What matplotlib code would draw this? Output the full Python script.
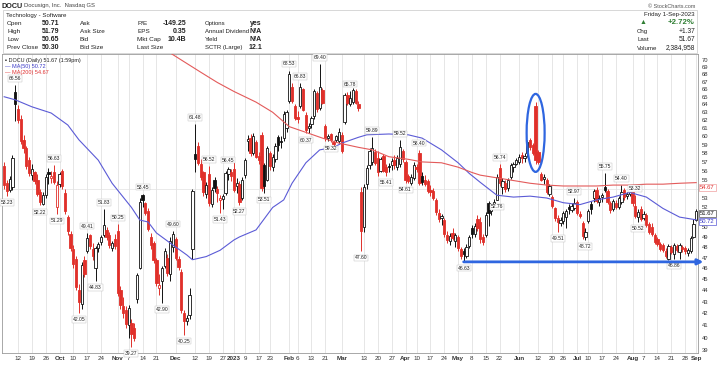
import matplotlib
matplotlib.use("Agg")
import matplotlib.pyplot as plt
from matplotlib.patches import Ellipse, Rectangle
from matplotlib.ticker import FixedLocator, FixedFormatter, NullFormatter
import numpy as np
import pandas as pd

# NYSE holidays inside the window
holidays = ["2022-09-05", "2022-11-24", "2022-12-26", "2023-01-02", "2023-01-16",
            "2023-02-20", "2023-04-07", "2023-05-29", "2023-06-19", "2023-07-04"]

opens = [
    56.5, 54.6, 53.9, 54.2, 65.6, 63.4, 62.2, 59.6, 58.6, 57.2,
    55.5, 55.8, 55.0, 53.6, 52.4, 53.3, 55.8, 55.2, 55.8, 52.0,
    54.5, 56.0, 53.5, 51.0, 49.3, 47.8, 46.9, 44.0, 42.8, 46.8,
    47.6, 49.2, 47.8, 46.0, 47.9, 48.5, 49.2, 49.7, 49.2, 47.9,
    48.8, 49.6, 44.0, 42.6, 42.3, 41.0, 41.2, 40.8, 43.2, 46.0,
    53.3, 52.5, 51.6, 49.0, 48.4, 46.8, 44.2, 44.8, 46.2, 47.0,
    45.5, 48.0, 48.8, 46.9, 45.7, 42.0, 41.4, 41.9, 47.8, 57.9,
    58.8, 56.8, 55.8, 53.4, 55.6, 52.4, 55.0, 54.0, 52.8, 52.9,
    53.5, 55.6, 55.8, 56.2, 54.3, 54.5, 53.0, 55.5, 59.4, 59.8,
    58.0, 59.3, 57.7, 60.2, 56.6, 55.0, 58.0, 56.4, 57.3, 59.9,
    59.5, 59.8, 61.0, 64.5, 66.3, 63.8, 62.4, 63.8, 66.0, 62.7,
    61.0, 61.5, 62.5, 65.5, 63.6, 65.9, 61.3, 59.8, 60.3, 59.3,
    59.6, 59.5, 60.2, 61.8, 65.2, 64.0, 64.3, 65.8, 64.0, 53.7,
    50.0, 54.5, 56.6, 57.0, 58.2, 57.4, 56.0, 57.7, 56.4, 56.5,
    56.6, 57.2, 56.4, 56.8, 58.3, 57.0, 55.4, 54.6, 55.2, 56.4,
    58.0, 55.4, 55.0, 54.8, 53.9, 53.8, 52.8, 51.4, 50.9, 50.7,
    49.2, 48.6, 49.4, 48.6, 49.0, 47.8, 47.6, 47.2, 48.1, 49.9,
    49.3, 50.8, 50.5, 49.0, 49.2, 52.5, 51.6, 52.4, 52.8, 56.3,
    54.2, 54.6, 54.1, 55.3, 56.4, 56.8, 57.0, 57.8, 57.5, 58.0,
    59.6, 59.0, 63.8, 58.2, 55.6, 55.1, 55.0, 53.4, 53.1, 51.9,
    50.9, 50.4, 50.6, 51.0, 52.1, 51.7, 51.9, 52.6, 51.3, 50.4,
    49.0, 50.6, 52.4, 53.0, 53.9, 52.6, 53.1, 54.2, 53.8, 52.5,
    51.8, 52.5, 52.0, 52.6, 53.9, 53.2, 53.4, 53.6, 52.2, 51.0,
    51.8, 50.9, 51.2, 50.3, 50.0, 49.2, 48.8, 48.3, 48.2, 47.6,
    46.9, 48.0, 47.3, 48.1, 47.5, 48.0, 47.9, 47.4, 47.6, 49.0,
    50.71]

highs = [
    57.0, 55.0, 55.4, 57.8, 66.56, 63.9, 62.6, 60.2, 58.9, 57.6,
    56.8, 56.0, 55.6, 54.0, 53.6, 55.6, 56.3, 56.0, 56.63, 54.8,
    55.9, 56.2, 54.0, 51.2, 49.6, 48.2, 47.2, 44.6, 46.6, 47.2,
    49.41, 49.3, 48.4, 48.1, 48.5, 49.2, 51.83, 50.0, 49.5, 48.6,
    49.3, 50.25, 44.4, 43.4, 42.6, 42.7, 41.5, 41.2, 45.6, 53.0,
    53.45, 52.6, 51.9, 49.4, 48.6, 47.0, 45.5, 46.2, 47.9, 47.3,
    49.0, 49.6, 49.0, 47.2, 45.9, 42.3, 41.9, 44.2, 54.0, 61.48,
    59.3, 57.3, 56.0, 54.7, 56.52, 54.2, 55.3, 54.3, 53.3, 53.4,
    56.0, 56.45, 56.2, 57.3, 55.2, 54.8, 55.3, 57.5, 60.2, 60.3,
    60.4, 59.6, 58.2, 60.5, 56.9, 58.9, 58.3, 57.9, 59.2, 60.2,
    60.0, 63.1, 63.3, 68.53, 66.8, 64.0, 63.1, 66.83, 66.2, 63.0,
    61.7, 62.5, 66.0, 65.8, 69.4, 66.1, 61.5, 60.3, 60.4, 59.6,
    60.2, 61.0, 60.5, 65.5, 65.6, 65.78, 66.1, 66.0, 64.5, 54.2,
    54.5, 56.6, 58.6, 59.89, 58.5, 58.3, 57.6, 57.9, 56.8, 56.9,
    57.4, 57.8, 57.8, 59.52, 58.5, 57.2, 55.6, 55.6, 57.0, 56.8,
    58.4, 55.8, 55.5, 55.1, 54.4, 54.1, 53.0, 51.8, 51.3, 50.9,
    49.6, 49.4, 49.9, 49.4, 49.2, 48.0, 47.9, 48.3, 49.2, 50.2,
    50.4, 51.2, 51.0, 49.3, 51.5, 52.7, 52.4, 52.9, 55.6, 56.74,
    55.2, 55.0, 55.2, 56.9, 57.0, 57.4, 57.9, 58.1, 58.0, 59.6,
    59.8, 59.2, 64.3, 58.4, 55.9, 55.6, 55.2, 54.5, 53.3, 52.0,
    51.2, 51.0, 51.6, 51.8, 52.4, 52.5, 52.97, 52.8, 51.6, 50.6,
    49.9, 51.8, 52.7, 54.0, 54.2, 53.3, 53.5, 55.75, 54.0, 52.7,
    52.9, 52.8, 53.2, 54.4, 54.1, 53.6, 53.9, 53.8, 53.32, 51.8,
    52.2, 51.6, 51.4, 50.5, 50.4, 49.4, 49.0, 48.5, 48.4, 47.9,
    48.3, 48.2, 48.4, 48.3, 48.4, 48.2, 48.1, 47.9, 49.1, 50.8,
    51.79]

lows = [
    54.0, 53.23, 53.6, 53.9, 61.9, 61.6, 59.1, 58.0, 56.2, 55.4,
    55.0, 54.5, 53.2, 52.22, 52.3, 53.0, 54.5, 54.6, 54.5, 51.29,
    54.2, 54.0, 51.3, 49.2, 47.6, 46.0, 44.0, 42.05, 42.4, 45.2,
    47.4, 47.8, 46.8, 44.83, 47.5, 48.2, 49.0, 48.7, 47.9, 47.6,
    47.8, 43.5, 42.4, 41.6, 40.8, 40.0, 39.27, 39.7, 42.9, 45.9,
    52.0, 51.2, 49.6, 47.8, 46.5, 44.4, 43.6, 42.9, 46.0, 45.3,
    44.8, 47.5, 46.8, 45.8, 42.0, 40.25, 41.0, 41.5, 46.9, 55.8,
    56.6, 55.0, 53.2, 53.0, 52.2, 52.0, 53.7, 52.6, 51.43, 51.8,
    53.3, 55.0, 54.8, 53.6, 53.5, 52.27, 52.8, 55.2, 58.3, 57.7,
    57.8, 57.4, 56.8, 53.8, 53.51, 54.8, 56.1, 56.0, 57.0, 58.3,
    58.6, 59.5, 60.6, 64.2, 64.2, 62.0, 61.7, 63.5, 63.1, 60.37,
    60.4, 61.0, 62.2, 63.0, 63.3, 64.0, 59.5, 59.4, 59.32, 58.8,
    59.3, 59.2, 58.0, 61.5, 63.9, 63.8, 64.0, 64.0, 63.2, 47.6,
    49.5, 54.0, 56.2, 56.6, 56.6, 55.4, 55.8, 55.8, 55.41, 55.9,
    56.1, 56.2, 56.1, 56.4, 57.0, 54.61, 54.6, 54.4, 55.0, 55.8,
    54.4, 54.4, 54.3, 53.5, 53.2, 52.8, 51.2, 50.5, 50.2, 49.0,
    48.4, 48.2, 48.7, 48.0, 47.6, 46.9, 46.63, 47.0, 47.9, 48.9,
    49.0, 49.6, 48.4, 48.2, 49.0, 50.1, 51.2, 52.0, 52.76, 54.3,
    53.4, 53.6, 53.8, 55.1, 55.9, 56.6, 56.8, 56.9, 57.0, 57.6,
    58.4, 57.8, 56.8, 56.8, 54.8, 54.5, 53.4, 53.2, 51.9, 50.6,
    49.51, 50.1, 50.3, 49.9, 51.3, 51.5, 51.7, 51.2, 50.9, 48.8,
    48.72, 50.4, 51.3, 52.6, 52.5, 52.2, 52.6, 53.7, 52.4, 51.4,
    51.6, 51.8, 51.8, 52.4, 52.8, 52.9, 53.2, 52.2, 50.9, 50.52,
    50.6, 50.7, 50.0, 49.3, 49.1, 48.3, 48.1, 47.6, 47.5, 47.0,
    46.8, 47.3, 46.86, 47.5, 46.9, 47.5, 47.3, 47.2, 47.4, 48.9,
    50.65]

closes = [
    54.4, 53.8, 55.1, 57.5, 64.0, 62.0, 59.4, 58.6, 56.5, 55.7,
    56.2, 54.8, 53.4, 52.6, 53.3, 55.3, 55.6, 55.4, 54.7, 54.4,
    55.6, 54.3, 51.6, 49.6, 47.9, 46.4, 44.3, 43.0, 46.3, 45.5,
    48.9, 48.1, 47.2, 47.9, 48.3, 49.0, 50.2, 49.0, 48.2, 48.4,
    48.1, 43.8, 42.7, 42.0, 41.1, 42.5, 40.3, 40.0, 45.4, 52.6,
    52.8, 51.4, 49.8, 48.2, 46.8, 44.7, 44.5, 46.0, 47.6, 45.6,
    48.6, 49.3, 47.0, 46.1, 42.3, 41.4, 41.6, 43.6, 53.8, 57.3,
    56.9, 55.3, 53.6, 54.4, 52.5, 53.9, 54.1, 53.5, 53.0, 53.2,
    55.7, 56.2, 55.4, 53.9, 54.6, 52.6, 55.0, 57.2, 59.7, 58.0,
    60.0, 57.6, 57.2, 54.1, 54.3, 58.6, 56.5, 57.6, 58.9, 59.0,
    59.3, 62.8, 63.0, 68.1, 64.5, 62.3, 62.2, 66.3, 63.3, 60.8,
    61.3, 62.3, 65.7, 63.4, 66.3, 64.2, 59.8, 60.0, 59.6, 59.1,
    60.0, 60.6, 58.3, 65.2, 64.2, 64.8, 65.9, 64.2, 63.5, 49.6,
    54.2, 56.3, 58.3, 58.6, 56.9, 55.8, 57.3, 56.0, 55.8, 56.4,
    57.1, 56.6, 57.5, 58.7, 57.3, 55.0, 54.8, 55.3, 56.7, 56.2,
    54.6, 54.7, 54.5, 53.8, 53.6, 53.0, 51.5, 50.8, 51.1, 49.3,
    48.7, 49.1, 48.9, 49.2, 47.9, 47.2, 47.3, 48.0, 49.0, 49.3,
    50.1, 49.9, 48.8, 48.5, 51.2, 51.4, 52.1, 52.6, 55.3, 54.6,
    54.9, 54.0, 55.0, 56.6, 56.8, 57.2, 57.6, 57.4, 57.7, 59.3,
    58.7, 58.0, 57.2, 57.0, 55.0, 55.3, 53.7, 54.3, 52.2, 50.9,
    50.5, 50.7, 51.4, 51.6, 51.8, 52.2, 52.5, 51.4, 51.1, 49.1,
    49.5, 51.6, 51.8, 53.8, 52.7, 53.0, 53.3, 53.9, 52.6, 51.7,
    52.7, 52.0, 53.0, 53.6, 53.1, 53.4, 53.7, 52.5, 51.1, 51.5,
    50.8, 51.3, 50.2, 49.5, 49.3, 48.5, 48.3, 47.8, 47.7, 47.2,
    48.1, 47.5, 48.2, 47.7, 48.2, 47.8, 47.6, 47.7, 48.9, 50.3,
    51.67]

# moving averages (trading-day index, value)
ma50_idx = [0, 4, 10, 17, 23, 27, 34, 39, 46, 49, 52, 55, 61, 66, 68, 73, 78, 83, 85, 91,
            97, 101, 104, 109, 114, 119, 122, 128, 131, 139, 146, 151, 158, 164, 168, 172,
            178, 184, 190, 196, 202, 208, 214, 220, 226, 232, 238, 244, 250]
ma50_val = [65.0, 64.6, 63.7, 62.9, 61.4, 59.6, 57.2, 54.6, 52.0, 50.7, 50.5, 49.4, 48.2,
            47.25, 46.8, 47.1, 47.7, 48.7, 49.0, 49.7, 52.0, 52.8, 54.6, 56.9, 58.4, 58.7,
            59.2, 59.9, 60.2, 60.3, 60.2, 59.8, 58.4, 56.9, 55.7, 54.7, 53.3, 53.1, 53.2,
            53.0, 52.5, 52.3, 52.8, 53.1, 53.6, 53.1, 51.9, 51.0, 50.72]
ma200_idx = [58, 64, 71, 77, 83, 91, 97, 103, 109, 115, 121, 128, 133, 139, 146, 151, 158,
             164, 169, 172, 178, 184, 190, 196, 202, 208, 214, 220, 226, 232, 238, 244, 250]
ma200_val = [71.5, 70.0, 68.3, 66.9, 65.7, 64.3, 63.0, 61.2, 60.5, 59.8, 59.2, 58.7, 58.4,
             57.6, 57.3, 57.0, 56.9, 56.4, 55.8, 55.5, 55.2, 54.9, 54.6, 54.4, 54.3, 54.3,
             54.3, 54.4, 54.4, 54.5, 54.5, 54.6, 54.67]

tick_dates = ["2022-09-12", "2022-09-19", "2022-09-26", "2022-10-03", "2022-10-10", "2022-10-17",
              "2022-10-24", "2022-11-01", "2022-11-07", "2022-11-14", "2022-11-21", "2022-12-01",
              "2022-12-12", "2022-12-19", "2022-12-27", "2023-01-03", "2023-01-09", "2023-01-17",
              "2023-01-23", "2023-02-01", "2023-02-06", "2023-02-13", "2023-02-21", "2023-03-01",
              "2023-03-13", "2023-03-20", "2023-03-27", "2023-04-03", "2023-04-10", "2023-04-17",
              "2023-04-24", "2023-05-01", "2023-05-08", "2023-05-15", "2023-05-22", "2023-06-01",
              "2023-06-12", "2023-06-20", "2023-06-26", "2023-07-03", "2023-07-10", "2023-07-17",
              "2023-07-24", "2023-08-01", "2023-08-07", "2023-08-14", "2023-08-21", "2023-08-28",
              "2023-09-01"]
tick_labels = ["12", "19", "26", "Oct", "10", "17", "24", "Nov", "7", "14", "21", "Dec",
               "12", "19", "27", "2023", "9", "17", "23", "Feb", "6", "13", "21", "Mar",
               "13", "20", "27", "Apr", "10", "17", "24", "May", "8", "15", "22", "Jun",
               "12", "20", "26", "Jul", "10", "17", "24", "Aug", "7", "14", "21", "28", "Sep"]

# candles that carry a high / low price tag
high_tags = [4, 18, 30, 36, 41, 50, 61, 69, 74, 81, 103, 107, 114, 125, 133, 143, 150,
             179, 206, 217, 223, 228]
low_tags = [1, 13, 19, 27, 33, 46, 57, 65, 78, 85, 94, 109, 118, 129, 138, 145, 166, 178,
            200, 210, 229, 242]

support_start = 166      # May low, start of the drawn support line
support_level = 46.6
spike_day = 192          # circled candle

volume_text = "2,384,958"

plt.rcParams['font.family'] = ['Liberation Sans', 'DejaVu Sans']

dates = pd.bdate_range("2022-09-02", "2023-09-01")
dates = dates[~dates.isin(pd.to_datetime(holidays))]
o = np.array(opens); h = np.array(highs); l = np.array(lows); c = np.array(closes)
x = np.arange(len(c))

W, H = 720, 365
fig = plt.figure(figsize=(W / 100, H / 100), dpi=100)
fig.patch.set_facecolor("white")

def fpos(px, py):
    return px / W, 1 - py / H

ax = fig.add_axes([2 / W, 1 - 353 / H, 696 / W, 299 / H])
ax.set_yscale("log")
x0, x1 = -0.78, 250.66
y0, y1 = 38.78, 70.85

RED = "#e0302a"
BLK = "#111111"
prev = np.concatenate([[o[0]], c[:-1]])
cols = np.where(c > prev, BLK, RED)
hollow = c > o
faces = np.where(hollow, "white", cols)
bottoms = np.minimum(o, c)
heights = np.maximum(np.abs(c - o), 0.12)

ax.vlines(x, l, h, colors=cols, lw=0.7, zorder=3)
ax.bar(x, heights, width=0.82, bottom=bottoms, color=faces, edgecolor=cols,
       linewidth=0.6, zorder=4)

ax.plot(ma50_idx, ma50_val, color="#5b5bd6", lw=0.8, zorder=5)
ax.plot(ma200_idx, ma200_val, color="#e35a5a", lw=0.8, zorder=5)

for i in high_tags:
    ax.annotate(f"{h[i]:.2f}", (i, h[i]), xytext=(0, 3), textcoords="offset points",
                ha="center", va="bottom", fontsize=3.6, color="#222", zorder=6,
                bbox=dict(boxstyle="square,pad=0.15", fc="white", ec="#bbbbbb", lw=0.3))
for i in low_tags:
    ax.annotate(f"{l[i]:.2f}", (i, l[i]), xytext=(0, -3), textcoords="offset points",
                ha="center", va="top", fontsize=3.6, color="#222", zorder=6,
                bbox=dict(boxstyle="square,pad=0.15", fc="white", ec="#bbbbbb", lw=0.3))

# support line with arrow
ax.annotate("", xy=(252.6, support_level), xytext=(support_start, support_level),
            arrowprops=dict(arrowstyle="-|>", color="#2f66e0", lw=2.0, mutation_scale=8,
                            shrinkA=0, shrinkB=0),
            annotation_clip=False, zorder=7)

ax.set_xlim(x0, x1)
ax.set_ylim(y0, y1)

# ellipse around the spike candle
ex = (spike_day - x0) / (x1 - x0)
ey = (np.log(np.sqrt(h[spike_day] * l[spike_day])) - np.log(y0)) / (np.log(y1) - np.log(y0))
ax.add_patch(Ellipse((ex, ey), 18 / 696, 78 / 299, transform=ax.transAxes, fill=False,
                     ec="#2f66e0", lw=1.6, zorder=8))

# axes, ticks, grid
date_index = {d.strftime("%Y-%m-%d"): k for k, d in enumerate(dates)}
tick_pos = [date_index[d] for d in tick_dates]
ax.set_xticks(tick_pos)
ax.set_xticklabels(tick_labels)
for lab in ax.get_xticklabels():
    if not lab.get_text().isdigit() or lab.get_text() == "2023":
        lab.set_fontweight("bold")
ax.tick_params(axis="x", length=0, pad=2, labelsize=4.5, colors="#333333")

yt = [v for v in range(39, 71) if v not in (51, 54)]
ax.yaxis.tick_right()
ax.yaxis.set_major_locator(FixedLocator(yt))
ax.yaxis.set_major_formatter(FixedFormatter([str(v) for v in yt]))
ax.yaxis.set_minor_locator(FixedLocator(list(range(40, 71, 2))))
ax.yaxis.set_minor_formatter(NullFormatter())
ax.tick_params(axis="y", which="both", length=0, pad=3, labelsize=4.2, colors="#333333")
ax.grid(axis="x", color="#dcdcdc", lw=0.5, zorder=0)
ax.grid(axis="y", which="minor", color="#e2e2e2", lw=0.5, zorder=0)
ax.grid(axis="y", which="major", visible=False)
for sp in ax.spines.values():
    sp.set_color("#9a9a9a")
    sp.set_linewidth(0.6)

# value boxes on the right (nudged so they sit between the axis numbers)
for val, tc, ec, dy in [(ma200_val[-1], "#e03030", "#f0a0a0", -3.5),
                        (c[-1], "#111111", "#555555", -2.0),
                        (ma50_val[-1], "#3a3ac8", "#5a5ad6", -1.0)]:
    ax.annotate(f"{val:.2f}", xy=(1.0, val), xycoords=("axes fraction", "data"),
                xytext=(1.5, dy), textcoords="offset points", ha="left", va="center",
                fontsize=4.2, color=tc, annotation_clip=False,
                bbox=dict(boxstyle="square,pad=0.15", fc="white", ec=ec, lw=0.5))

# legend lines inside plot
ax.text(0.004, 0.988, f"\u25aa DOCU (Daily) {c[-1]:.2f} (1:59pm)", transform=ax.transAxes,
        fontsize=4, va="top", color="#222", zorder=9)
ax.text(0.004, 0.968, f"\u2014 MA(50) {ma50_val[-1]:.2f}", transform=ax.transAxes,
        fontsize=4, va="top", color="#3a3ac8", zorder=9)
ax.text(0.004, 0.948, f"\u2014 MA(200) {ma200_val[-1]:.2f}", transform=ax.transAxes,
        fontsize=4, va="top", color="#e03030", zorder=9)

# header panel
def t(px, py, s, **kw):
    kw.setdefault("fontsize", 4.6)
    kw.setdefault("va", "center")
    kw.setdefault("color", "#222222")
    fig.text(*fpos(px, py), s, **kw)

fig.add_artist(Rectangle(fpos(3, 53), 694 / W, 42.5 / H, transform=fig.transFigure,
                         fill=False, ec="#c8c8c8", lw=0.5))
t(2, 6, "DOCU", fontweight="bold", fontsize=5.2)
t(24, 6, "Docusign, Inc.  Nasdaq GS", fontsize=4.2, color="#444")
t(695, 6, "\u00a9 StockCharts.com", fontsize=4, ha="right", color="#555")
t(6, 15, "Technology - Software", fontsize=4.4)

chg = c[-1] - c[-2]
rows = [("Open", f"{o[-1]:.2f}", "Ask", "P/E", "-149.25", "Options", "yes"),
        ("High", f"{h[-1]:.2f}", "Ask Size", "EPS", "0.35", "Annual Dividend", "N/A"),
        ("Low", f"{l[-1]:.2f}", "Bid", "Mkt Cap", "10.4B", "Yield", "N/A"),
        ("Prev Close", f"{c[-2]:.2f}", "Bid Size", "Last Size", "", "SCTR (Large)", "12.1")]
for k, (a, av, b, p, pv, q, qv) in enumerate(rows):
    yy = 23.5 + 8 * k
    t(7, yy, a)
    t(42, yy, av, fontweight="bold", fontsize=5)
    t(80, yy, b)
    t(137, yy, p)
    t(186, yy, pv, ha="right", fontweight="bold", fontsize=5)
    t(205, yy, q, fontsize=4.3)
    t(262, yy, qv, ha="right", fontweight="bold", fontsize=5)

t(695, 14.5, "Friday 1-Sep-2023", ha="right", fontsize=4.4)
t(640, 23, "\u25b2", color="#2e7d32", fontsize=5)
t(695, 23, f"{chg / c[-2] * 100:+.2f}%", ha="right", color="#2e7d32", fontweight="bold",
  fontsize=5.6)
t(637, 31.5, "Chg", fontsize=4.4)
t(695, 31.5, f"{chg:+.2f}", ha="right", fontsize=4.8)
t(637, 39.5, "Last", fontsize=4.4)
t(695, 39.5, f"{c[-1]:.2f}", ha="right", fontsize=4.8)
t(637, 48, "Volume", fontsize=4.4)
t(695, 48, volume_text, ha="right", fontsize=4.8)

fig.savefig("out.png", dpi=100)
